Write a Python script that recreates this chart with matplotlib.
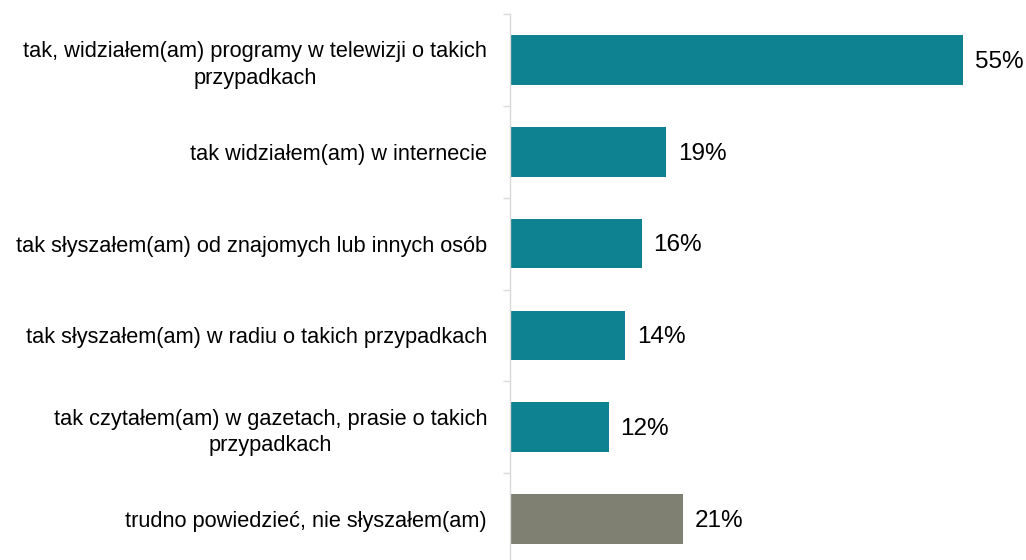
import numpy as np
import matplotlib.pyplot as plt

categories = [
    "tak, widziałem(am) programy w telewizji o takich\nprzypadkach",
    "tak widziałem(am) w internecie",
    "tak słyszałem(am) od znajomych lub innych osób",
    "tak słyszałem(am) w radiu o takich przypadkach",
    "tak czytałem(am) w gazetach, prasie o takich\nprzypadkach",
    "trudno powiedzieć, nie słyszałem(am)",
]
values = [55, 19, 16, 14, 12, 21]
colors = ["#0E8290"] * 5 + ["#7F7F72"]

plt.rcParams["font.family"] = ["Liberation Sans", "DejaVu Sans"]

fig = plt.figure(figsize=(10.26, 5.6), dpi=100)
# axis spans band edges from y=14px to y=565px (slightly past the bottom)
ax = fig.add_axes([510 / 1026, -5 / 560, (1020 - 510) / 1026, (565 - 14) / 560])

y = np.arange(len(categories))
ax.barh(y, values, height=0.54, color=colors)
ax.set_ylim(len(categories) - 0.5, -0.5)
ax.set_xlim(0, (1020 - 510) / ((963 - 510) / 55))

for yi, v in zip(y, values):
    ax.text(v + 1.4, yi + 0.02, f"{v}%", va="center", ha="left", fontsize=17.5, color="#000000")

ax.set_yticks(y)
ax.set_yticklabels(categories, fontsize=15.7, multialignment="center", linespacing=1.35)
ax.tick_params(axis="y", which="major", length=0, pad=16.5)
ax.set_yticks(np.arange(-0.5, len(categories) + 0.5, 1), minor=True)
ax.tick_params(axis="y", which="minor", length=5, color="#d9d9d9", width=1)
ax.set_xticks([])

for s in ["top", "right", "bottom"]:
    ax.spines[s].set_visible(False)
ax.spines["left"].set_color("#d9d9d9")
ax.spines["left"].set_linewidth(1)

fig.savefig("out.png", dpi=100)
